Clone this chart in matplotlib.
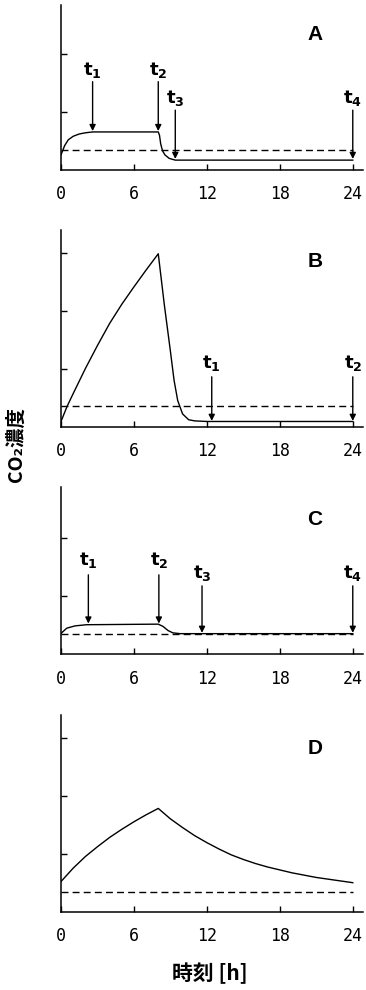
import matplotlib
matplotlib.use("Agg")
import matplotlib.pyplot as plt

# ---- data (hours, arbitrary CO2 units) ----
A_t = [0, 0.3, 0.6, 1.0, 1.5, 2.0, 2.6, 8.0, 8.1, 8.2, 8.35, 8.55, 8.9, 9.4, 24]
A_c = [0.26, 0.42, 0.52, 0.58, 0.62, 0.64, 0.655, 0.655, 0.60, 0.45, 0.33, 0.26, 0.20, 0.17, 0.17]
A_base = 0.345
A_arrows = [2.6, 8.0, 9.4, 24.0]

B_t = [0, 0.5, 1, 2, 3, 4, 5, 6, 7, 8, 8.5, 9.0, 9.3, 9.6, 10.0, 10.5, 11, 12, 24]
B_c = [0.09, 0.35, 0.57, 1.0, 1.40, 1.78, 2.11, 2.41, 2.70, 2.98, 2.1, 1.3, 0.8, 0.45, 0.22, 0.12, 0.10, 0.09, 0.09]
B_base = 0.36
B_arrows = [12.4, 24.0]

C_t = [0, 0.47, 1.15, 2.1, 8.0, 8.4, 8.8, 9.2, 9.8, 24]
C_c = [0.36, 0.45, 0.49, 0.51, 0.52, 0.48, 0.41, 0.37, 0.356, 0.356]
C_base = 0.35
C_arrows = [2.25, 8.05, 11.6, 24.0]

D_t = [0, 1, 2, 3, 4, 5, 6, 7, 8, 9, 10, 11, 12, 13, 14, 15, 16, 17, 18, 19, 20, 21, 22, 23, 24]
D_c = [0.52, 0.75, 0.95, 1.12, 1.28, 1.42, 1.55, 1.67, 1.78, 1.60, 1.45, 1.31, 1.19,
       1.08, 0.98, 0.90, 0.83, 0.77, 0.72, 0.67, 0.63, 0.59, 0.56, 0.53, 0.50]
D_base = 0.34

X_TICKS = [0, 6, 12, 18, 24]

MONO = "DejaVu Sans Mono"
CJK = ["Noto Sans CJK JP", "DejaVu Sans"]

fig = plt.figure(figsize=(3.66, 9.9), dpi=100)


def make_axes(bottom_px, top_px, ymax, nticks):
    left = 61 / 366
    width = (362.5 - 61) / 366
    ax = fig.add_axes([left, 1 - bottom_px / 990, width, (bottom_px - top_px) / 990])
    ax.set_xlim(0, 24.8)
    ax.set_ylim(0, ymax)
    for s in ("top", "right"):
        ax.spines[s].set_visible(False)
    for s in ("left", "bottom"):
        ax.spines[s].set_linewidth(1.1)
    ax.set_xticks(X_TICKS)
    ax.set_xticklabels([str(v) for v in X_TICKS], fontfamily=MONO, fontsize=12)
    ax.set_yticks(list(range(1, nticks + 1)))
    ax.set_yticklabels([])
    ax.tick_params(direction="in", length=4, width=1.0)
    ax.tick_params(axis="x", pad=11)
    return ax


def arrows(ax, xs, y0, y1, ylab, idx0=1):
    for i, x in enumerate(xs):
        ax.annotate("", xy=(x, y1), xytext=(x, y0),
                    arrowprops=dict(arrowstyle="-|>", lw=1.0, color="k",
                                    mutation_scale=9, shrinkA=0, shrinkB=0))
        ax.text(x, ylab, r"$\mathbf{t}_\mathbf{%d}$" % (i + idx0), ha="center",
                va="center", fontsize=13)


def panel_letter(ax, letter, y):
    ax.text(20.9, y, letter, ha="center", va="center", fontsize=15,
            fontweight="bold", fontfamily="Liberation Sans")


# Panel A
axA = make_axes(170, 5, 2.84, 2)
axA.plot(A_t, A_c, color="k", lw=1.0)
axA.plot([0, 24], [A_base, A_base], color="k", lw=1.0, dashes=(5, 3))
arrows(axA, A_arrows[:2], 1.52, 0.67, 1.72)
arrows(axA, A_arrows[2:], 1.03, 0.19, 1.24, idx0=3)
panel_letter(axA, "A", 2.33)

# Panel B
axB = make_axes(426.7, 230, 3.39, 3)
axB.plot(B_t, B_c, color="k", lw=1.0)
axB.plot([0, 24], [B_base, B_base], color="k", lw=1.0, dashes=(5, 3))
arrows(axB, B_arrows, 0.86, 0.10, 1.10)
panel_letter(axB, "B", 2.84)

# Panel C
axC = make_axes(654.3, 486.7, 2.89, 2)
axC.plot(C_t, C_c, color="k", lw=1.0)
axC.plot([0, 24], [C_base, C_base], color="k", lw=1.0, dashes=(5, 3))
arrows(axC, C_arrows[:2], 1.37, 0.53, 1.63)
arrows(axC, C_arrows[2:], 1.18, 0.37, 1.40, idx0=3)
panel_letter(axC, "C", 2.32)

# Panel D
axD = make_axes(911.7, 715, 3.39, 3)
axD.plot(D_t, D_c, color="k", lw=1.0)
axD.plot([0, 24], [D_base, D_base], color="k", lw=1.0, dashes=(5, 3))
panel_letter(axD, "D", 2.82)

fig.text(16 / 366, 1 - 445 / 990, "CO₂濃度", rotation=90, ha="center", va="center",
         fontsize=14, fontweight="bold", family=CJK)
fig.text(210 / 366, 1 - 973 / 990, "時刻 [h]", ha="center", va="center",
         fontsize=15, fontweight="bold", family=CJK)

fig.savefig("out.png", dpi=100, facecolor="white")
